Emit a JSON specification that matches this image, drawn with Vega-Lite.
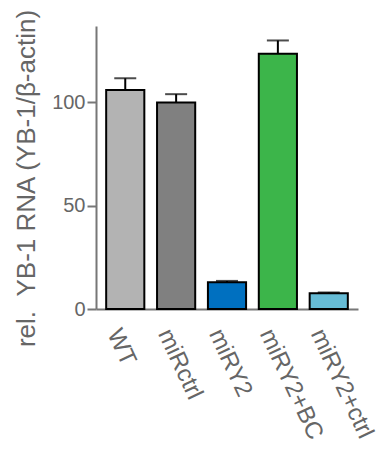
{
  "$schema": "https://vega.github.io/schema/vega-lite/v6.json",
  "width": 262,
  "height": 283,
  "autosize": "none",
  "padding": {"left": 96, "top": 26, "right": 24, "bottom": 144},
  "config": {"view": {"stroke": null}, "font": "Liberation Sans"},
  "data": {"values": [
    {"group": "WT", "value": 106, "upper": 111.7},
    {"group": "miRctrl", "value": 100, "upper": 104},
    {"group": "miRY2", "value": 13, "upper": 13.6},
    {"group": "miRY2+BC", "value": 123.6, "upper": 130},
    {"group": "miRY2+ctrl", "value": 7.6, "upper": 8}
  ]},
  "encoding": {
    "x": {
      "field": "group", "type": "nominal", "sort": null,
      "scale": {"paddingInner": 0.25, "paddingOuter": 0.2},
      "axis": {
        "title": null, "ticks": false, "domainColor": "#777", "domainWidth": 2,
        "labelAngle": 65, "labelAlign": "left", "labelBaseline": "middle",
        "labelFontSize": 24, "labelColor": "#666", "labelPadding": 21, "labelOffset": -12
      }
    }
  },
  "layer": [
    {
      "mark": {"type": "bar", "stroke": "black", "strokeWidth": 2},
      "encoding": {
        "y": {
          "field": "value", "type": "quantitative",
          "scale": {"domain": [0, 137], "nice": false},
          "axis": {
            "values": [0, 50, 100], "grid": false,
            "tickSize": 9, "tickWidth": 2, "tickColor": "#777",
            "domainColor": "#777", "domainWidth": 2,
            "labelFontSize": 20, "labelColor": "#666", "labelPadding": 2,
            "title": "rel.\u00a0\u00a0YB-1 RNA (YB-1/β-actin)",
            "titleFontSize": 26, "titleFontWeight": "normal", "titleColor": "#666",
            "titleX": -57, "titleY": 152
          }
        },
        "color": {
          "field": "group", "type": "nominal", "legend": null,
          "scale": {
            "domain": ["WT", "miRctrl", "miRY2", "miRY2+BC", "miRY2+ctrl"],
            "range": ["#b3b3b3", "#808080", "#0070c0", "#3cb54a", "#66bcd6"]
          }
        }
      }
    },
    {
      "mark": {"type": "rule", "color": "black", "strokeWidth": 2},
      "encoding": {
        "y": {"field": "value", "type": "quantitative"},
        "y2": {"field": "upper"}
      }
    },
    {
      "mark": {"type": "tick", "color": "black", "thickness": 2, "size": 22},
      "encoding": {
        "y": {"field": "upper", "type": "quantitative"}
      }
    }
  ]
}
